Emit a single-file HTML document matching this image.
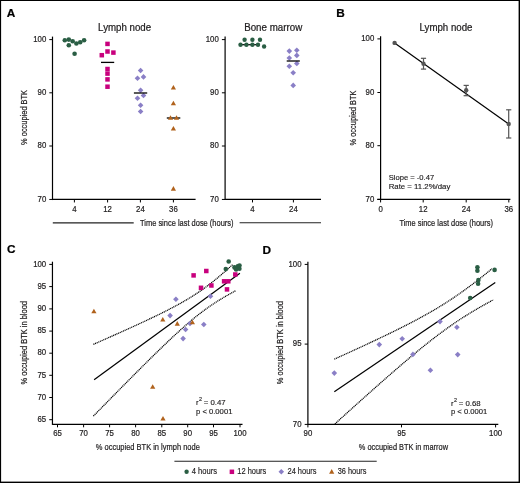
<!DOCTYPE html>
<html><head><meta charset="utf-8"><style>
html,body{margin:0;padding:0;background:#fff;width:520px;height:483px;overflow:hidden}
svg{display:block;font-family:"Liberation Sans", sans-serif;will-change:transform}
</style></head><body>
<svg width="520" height="483" viewBox="0 0 520 483">
<rect x="0" y="0" width="520" height="483" fill="#fff"/>
<rect x="0" y="0" width="520" height="1" fill="#000"/>
<rect x="0" y="0" width="1.1" height="483" fill="#000"/>
<rect x="518.6" y="0" width="1.4" height="483" fill="#000"/>
<rect x="0" y="481.6" width="520" height="1.4" fill="#000"/>
<text x="6.80" y="16.90" font-size="11.8" text-anchor="start" font-weight="bold" fill="#000" stroke="#000" stroke-width="0.22">A</text>
<text x="336.30" y="16.90" font-size="11.8" text-anchor="start" font-weight="bold" fill="#000" stroke="#000" stroke-width="0.22">B</text>
<text x="7.00" y="253.30" font-size="11.8" text-anchor="start" font-weight="bold" fill="#000" stroke="#000" stroke-width="0.22">C</text>
<text x="262.60" y="253.50" font-size="11.8" text-anchor="start" font-weight="bold" fill="#000" stroke="#000" stroke-width="0.22">D</text>
<line x1="52.50" y1="36.60" x2="52.50" y2="200.05" stroke="#000" stroke-width="1.2" />
<line x1="49.30" y1="39.60" x2="52.50" y2="39.60" stroke="#000" stroke-width="1.0" />
<text x="46.30" y="41.80" font-size="9.3" text-anchor="end" font-weight="normal" fill="#1e1c1d" stroke="#1e1c1d" stroke-width="0.22" textLength="13.03" lengthAdjust="spacingAndGlyphs">100</text>
<line x1="49.30" y1="92.80" x2="52.50" y2="92.80" stroke="#000" stroke-width="1.0" />
<text x="46.30" y="95.00" font-size="9.3" text-anchor="end" font-weight="normal" fill="#1e1c1d" stroke="#1e1c1d" stroke-width="0.22" textLength="8.69" lengthAdjust="spacingAndGlyphs">90</text>
<line x1="49.30" y1="146.00" x2="52.50" y2="146.00" stroke="#000" stroke-width="1.0" />
<text x="46.30" y="148.20" font-size="9.3" text-anchor="end" font-weight="normal" fill="#1e1c1d" stroke="#1e1c1d" stroke-width="0.22" textLength="8.69" lengthAdjust="spacingAndGlyphs">80</text>
<line x1="49.30" y1="199.45" x2="52.50" y2="199.45" stroke="#000" stroke-width="1.0" />
<text x="46.30" y="201.65" font-size="9.3" text-anchor="end" font-weight="normal" fill="#1e1c1d" stroke="#1e1c1d" stroke-width="0.22" textLength="8.69" lengthAdjust="spacingAndGlyphs">70</text>
<line x1="52.50" y1="199.45" x2="195.60" y2="199.45" stroke="#000" stroke-width="1.2" />
<line x1="74.40" y1="199.45" x2="74.40" y2="202.45" stroke="#000" stroke-width="1.0" />
<text x="74.40" y="212.30" font-size="9.3" text-anchor="middle" font-weight="normal" fill="#1e1c1d" stroke="#1e1c1d" stroke-width="0.22" textLength="4.34" lengthAdjust="spacingAndGlyphs">4</text>
<line x1="107.60" y1="199.45" x2="107.60" y2="202.45" stroke="#000" stroke-width="1.0" />
<text x="107.60" y="212.30" font-size="9.3" text-anchor="middle" font-weight="normal" fill="#1e1c1d" stroke="#1e1c1d" stroke-width="0.22" textLength="8.69" lengthAdjust="spacingAndGlyphs">12</text>
<line x1="140.40" y1="199.45" x2="140.40" y2="202.45" stroke="#000" stroke-width="1.0" />
<text x="140.40" y="212.30" font-size="9.3" text-anchor="middle" font-weight="normal" fill="#1e1c1d" stroke="#1e1c1d" stroke-width="0.22" textLength="8.69" lengthAdjust="spacingAndGlyphs">24</text>
<line x1="173.40" y1="199.45" x2="173.40" y2="202.45" stroke="#000" stroke-width="1.0" />
<text x="173.40" y="212.30" font-size="9.3" text-anchor="middle" font-weight="normal" fill="#1e1c1d" stroke="#1e1c1d" stroke-width="0.22" textLength="8.69" lengthAdjust="spacingAndGlyphs">36</text>
<text x="124.60" y="31.00" font-size="10.1" text-anchor="middle" font-weight="normal" fill="#1e1c1d" stroke="#1e1c1d" stroke-width="0.22" textLength="53.00" lengthAdjust="spacingAndGlyphs">Lymph node</text>
<text x="27.30" y="117.45" font-size="9.3" text-anchor="middle" font-weight="normal" fill="#1e1c1d" stroke="#1e1c1d" stroke-width="0.22" textLength="55.00" lengthAdjust="spacingAndGlyphs" transform="rotate(-90 27.30 117.45)">% occupied BTK</text>
<circle cx="64.80" cy="40.20" r="2.3" fill="#2a5e44"/>
<circle cx="68.80" cy="39.60" r="2.3" fill="#2a5e44"/>
<circle cx="72.70" cy="41.20" r="2.3" fill="#2a5e44"/>
<circle cx="76.40" cy="43.50" r="2.3" fill="#2a5e44"/>
<circle cx="80.20" cy="42.20" r="2.3" fill="#2a5e44"/>
<circle cx="84.10" cy="40.20" r="2.3" fill="#2a5e44"/>
<circle cx="68.80" cy="45.20" r="2.3" fill="#2a5e44"/>
<circle cx="74.60" cy="53.70" r="2.3" fill="#2a5e44"/>
<line x1="101.00" y1="62.40" x2="114.20" y2="62.40" stroke="#000" stroke-width="1.3" />
<rect x="105.25" y="41.65" width="4.5" height="4.5" fill="#c8007d"/>
<rect x="105.25" y="49.25" width="4.5" height="4.5" fill="#c8007d"/>
<rect x="111.15" y="50.35" width="4.5" height="4.5" fill="#c8007d"/>
<rect x="99.55" y="52.95" width="4.5" height="4.5" fill="#c8007d"/>
<rect x="105.25" y="66.75" width="4.5" height="4.5" fill="#c8007d"/>
<rect x="105.25" y="71.35" width="4.5" height="4.5" fill="#c8007d"/>
<rect x="105.25" y="77.15" width="4.5" height="4.5" fill="#c8007d"/>
<rect x="105.25" y="84.45" width="4.5" height="4.5" fill="#c8007d"/>
<path d="M140.60 67.70L143.40 70.50L140.60 73.30L137.80 70.50Z" fill="#8a7fc6"/>
<path d="M143.50 74.10L146.30 76.90L143.50 79.70L140.70 76.90Z" fill="#8a7fc6"/>
<path d="M137.50 75.40L140.30 78.20L137.50 81.00L134.70 78.20Z" fill="#8a7fc6"/>
<path d="M140.60 87.40L143.40 90.20L140.60 93.00L137.80 90.20Z" fill="#8a7fc6"/>
<path d="M143.50 92.70L146.30 95.50L143.50 98.30L140.70 95.50Z" fill="#8a7fc6"/>
<path d="M137.50 95.40L140.30 98.20L137.50 101.00L134.70 98.20Z" fill="#8a7fc6"/>
<path d="M140.60 102.50L143.40 105.30L140.60 108.10L137.80 105.30Z" fill="#8a7fc6"/>
<path d="M140.60 108.70L143.40 111.50L140.60 114.30L137.80 111.50Z" fill="#8a7fc6"/>
<line x1="133.90" y1="93.00" x2="147.20" y2="93.00" stroke="#000" stroke-width="1.3" />
<line x1="166.80" y1="118.00" x2="180.30" y2="118.00" stroke="#000" stroke-width="1.3" />
<path d="M173.40 84.94L176.00 89.54L170.80 89.54Z" fill="#b0621c"/>
<path d="M173.40 100.64L176.00 105.24L170.80 105.24Z" fill="#b0621c"/>
<path d="M170.50 115.14L173.10 119.74L167.90 119.74Z" fill="#b0621c"/>
<path d="M176.50 115.14L179.10 119.74L173.90 119.74Z" fill="#b0621c"/>
<path d="M173.40 125.94L176.00 130.54L170.80 130.54Z" fill="#b0621c"/>
<path d="M173.40 186.04L176.00 190.64L170.80 190.64Z" fill="#b0621c"/>
<line x1="225.10" y1="36.60" x2="225.10" y2="200.05" stroke="#000" stroke-width="1.2" />
<line x1="221.90" y1="39.60" x2="225.10" y2="39.60" stroke="#000" stroke-width="1.0" />
<text x="218.80" y="41.80" font-size="9.3" text-anchor="end" font-weight="normal" fill="#1e1c1d" stroke="#1e1c1d" stroke-width="0.22" textLength="13.03" lengthAdjust="spacingAndGlyphs">100</text>
<line x1="221.90" y1="92.80" x2="225.10" y2="92.80" stroke="#000" stroke-width="1.0" />
<text x="218.80" y="95.00" font-size="9.3" text-anchor="end" font-weight="normal" fill="#1e1c1d" stroke="#1e1c1d" stroke-width="0.22" textLength="8.69" lengthAdjust="spacingAndGlyphs">90</text>
<line x1="221.90" y1="146.00" x2="225.10" y2="146.00" stroke="#000" stroke-width="1.0" />
<text x="218.80" y="148.20" font-size="9.3" text-anchor="end" font-weight="normal" fill="#1e1c1d" stroke="#1e1c1d" stroke-width="0.22" textLength="8.69" lengthAdjust="spacingAndGlyphs">80</text>
<line x1="221.90" y1="199.45" x2="225.10" y2="199.45" stroke="#000" stroke-width="1.0" />
<text x="218.80" y="201.65" font-size="9.3" text-anchor="end" font-weight="normal" fill="#1e1c1d" stroke="#1e1c1d" stroke-width="0.22" textLength="8.69" lengthAdjust="spacingAndGlyphs">70</text>
<line x1="225.10" y1="199.45" x2="321.00" y2="199.45" stroke="#000" stroke-width="1.2" />
<line x1="252.50" y1="199.45" x2="252.50" y2="202.45" stroke="#000" stroke-width="1.0" />
<text x="252.50" y="212.30" font-size="9.3" text-anchor="middle" font-weight="normal" fill="#1e1c1d" stroke="#1e1c1d" stroke-width="0.22" textLength="4.34" lengthAdjust="spacingAndGlyphs">4</text>
<line x1="293.40" y1="199.45" x2="293.40" y2="202.45" stroke="#000" stroke-width="1.0" />
<text x="293.40" y="212.30" font-size="9.3" text-anchor="middle" font-weight="normal" fill="#1e1c1d" stroke="#1e1c1d" stroke-width="0.22" textLength="8.69" lengthAdjust="spacingAndGlyphs">24</text>
<text x="273.20" y="31.00" font-size="10.1" text-anchor="middle" font-weight="normal" fill="#1e1c1d" stroke="#1e1c1d" stroke-width="0.22" textLength="58.00" lengthAdjust="spacingAndGlyphs">Bone marrow</text>
<line x1="241.00" y1="44.70" x2="259.00" y2="44.70" stroke="#000" stroke-width="1.2" />
<circle cx="244.60" cy="39.80" r="2.2" fill="#2a5e44"/>
<circle cx="252.40" cy="39.80" r="2.2" fill="#2a5e44"/>
<circle cx="260.00" cy="39.80" r="2.2" fill="#2a5e44"/>
<circle cx="240.50" cy="44.70" r="2.2" fill="#2a5e44"/>
<circle cx="246.40" cy="44.70" r="2.2" fill="#2a5e44"/>
<circle cx="252.40" cy="44.70" r="2.2" fill="#2a5e44"/>
<circle cx="258.00" cy="44.70" r="2.2" fill="#2a5e44"/>
<circle cx="264.10" cy="46.50" r="2.2" fill="#2a5e44"/>
<path d="M289.30 48.30L292.10 51.10L289.30 53.90L286.50 51.10Z" fill="#8a7fc6"/>
<path d="M296.80 47.50L299.60 50.30L296.80 53.10L294.00 50.30Z" fill="#8a7fc6"/>
<path d="M296.80 52.60L299.60 55.40L296.80 58.20L294.00 55.40Z" fill="#8a7fc6"/>
<path d="M289.30 55.20L292.10 58.00L289.30 60.80L286.50 58.00Z" fill="#8a7fc6"/>
<path d="M296.80 60.70L299.60 63.50L296.80 66.30L294.00 63.50Z" fill="#8a7fc6"/>
<path d="M289.30 63.40L292.10 66.20L289.30 69.00L286.50 66.20Z" fill="#8a7fc6"/>
<path d="M293.20 70.00L296.00 72.80L293.20 75.60L290.40 72.80Z" fill="#8a7fc6"/>
<path d="M293.20 82.60L296.00 85.40L293.20 88.20L290.40 85.40Z" fill="#8a7fc6"/>
<line x1="286.70" y1="61.00" x2="299.80" y2="61.00" stroke="#000" stroke-width="1.3" />
<line x1="52.80" y1="222.90" x2="133.70" y2="222.90" stroke="#222" stroke-width="1.1" />
<line x1="239.60" y1="222.80" x2="321.00" y2="222.80" stroke="#222" stroke-width="1.1" />
<text x="140.00" y="225.90" font-size="9.8" text-anchor="start" font-weight="normal" fill="#1e1c1d" stroke="#1e1c1d" stroke-width="0.22" textLength="93.50" lengthAdjust="spacingAndGlyphs">Time since last dose (hours)</text>
<line x1="380.60" y1="36.20" x2="380.60" y2="200.05" stroke="#000" stroke-width="1.2" />
<line x1="377.40" y1="38.90" x2="380.60" y2="38.90" stroke="#000" stroke-width="1.0" />
<text x="374.30" y="41.10" font-size="9.3" text-anchor="end" font-weight="normal" fill="#1e1c1d" stroke="#1e1c1d" stroke-width="0.22" textLength="13.03" lengthAdjust="spacingAndGlyphs">100</text>
<line x1="377.40" y1="92.50" x2="380.60" y2="92.50" stroke="#000" stroke-width="1.0" />
<text x="374.30" y="94.70" font-size="9.3" text-anchor="end" font-weight="normal" fill="#1e1c1d" stroke="#1e1c1d" stroke-width="0.22" textLength="8.69" lengthAdjust="spacingAndGlyphs">90</text>
<line x1="377.40" y1="145.70" x2="380.60" y2="145.70" stroke="#000" stroke-width="1.0" />
<text x="374.30" y="147.90" font-size="9.3" text-anchor="end" font-weight="normal" fill="#1e1c1d" stroke="#1e1c1d" stroke-width="0.22" textLength="8.69" lengthAdjust="spacingAndGlyphs">80</text>
<line x1="377.40" y1="199.45" x2="380.60" y2="199.45" stroke="#000" stroke-width="1.0" />
<text x="374.30" y="201.65" font-size="9.3" text-anchor="end" font-weight="normal" fill="#1e1c1d" stroke="#1e1c1d" stroke-width="0.22" textLength="8.69" lengthAdjust="spacingAndGlyphs">70</text>
<line x1="377.30" y1="199.45" x2="510.40" y2="199.45" stroke="#000" stroke-width="1.2" />
<line x1="380.60" y1="199.45" x2="380.60" y2="202.45" stroke="#000" stroke-width="1.0" />
<text x="380.60" y="212.30" font-size="9.3" text-anchor="middle" font-weight="normal" fill="#1e1c1d" stroke="#1e1c1d" stroke-width="0.22" textLength="4.34" lengthAdjust="spacingAndGlyphs">0</text>
<line x1="423.20" y1="199.45" x2="423.20" y2="202.45" stroke="#000" stroke-width="1.0" />
<text x="423.20" y="212.30" font-size="9.3" text-anchor="middle" font-weight="normal" fill="#1e1c1d" stroke="#1e1c1d" stroke-width="0.22" textLength="8.69" lengthAdjust="spacingAndGlyphs">12</text>
<line x1="466.20" y1="199.45" x2="466.20" y2="202.45" stroke="#000" stroke-width="1.0" />
<text x="466.20" y="212.30" font-size="9.3" text-anchor="middle" font-weight="normal" fill="#1e1c1d" stroke="#1e1c1d" stroke-width="0.22" textLength="8.69" lengthAdjust="spacingAndGlyphs">24</text>
<line x1="508.80" y1="199.45" x2="508.80" y2="202.45" stroke="#000" stroke-width="1.0" />
<text x="508.80" y="212.30" font-size="9.3" text-anchor="middle" font-weight="normal" fill="#1e1c1d" stroke="#1e1c1d" stroke-width="0.22" textLength="8.69" lengthAdjust="spacingAndGlyphs">36</text>
<text x="446.00" y="31.00" font-size="10.1" text-anchor="middle" font-weight="normal" fill="#1e1c1d" stroke="#1e1c1d" stroke-width="0.22" textLength="53.00" lengthAdjust="spacingAndGlyphs">Lymph node</text>
<text x="355.70" y="117.95" font-size="9.3" text-anchor="middle" font-weight="normal" fill="#1e1c1d" stroke="#1e1c1d" stroke-width="0.22" textLength="55.00" lengthAdjust="spacingAndGlyphs" transform="rotate(-90 355.70 117.95)">% occupied BTK</text>
<text x="399.40" y="225.80" font-size="9.8" text-anchor="start" font-weight="normal" fill="#1e1c1d" stroke="#1e1c1d" stroke-width="0.22" textLength="93.60" lengthAdjust="spacingAndGlyphs">Time since last dose (hours)</text>
<line x1="394.60" y1="42.90" x2="508.70" y2="124.00" stroke="#000" stroke-width="1.2" />
<line x1="423.50" y1="58.30" x2="423.50" y2="69.10" stroke="#555555" stroke-width="1.2" />
<line x1="420.90" y1="58.30" x2="426.10" y2="58.30" stroke="#555555" stroke-width="1.2" />
<line x1="420.90" y1="69.10" x2="426.10" y2="69.10" stroke="#555555" stroke-width="1.2" />
<line x1="466.20" y1="85.40" x2="466.20" y2="95.70" stroke="#555555" stroke-width="1.2" />
<line x1="463.60" y1="85.40" x2="468.80" y2="85.40" stroke="#555555" stroke-width="1.2" />
<line x1="463.60" y1="95.70" x2="468.80" y2="95.70" stroke="#555555" stroke-width="1.2" />
<line x1="508.70" y1="109.80" x2="508.70" y2="138.00" stroke="#555555" stroke-width="1.2" />
<line x1="506.10" y1="109.80" x2="511.30" y2="109.80" stroke="#555555" stroke-width="1.2" />
<line x1="506.10" y1="138.00" x2="511.30" y2="138.00" stroke="#555555" stroke-width="1.2" />
<circle cx="394.60" cy="42.90" r="2.2" fill="#555555"/>
<circle cx="423.50" cy="63.80" r="2.2" fill="#555555"/>
<circle cx="466.20" cy="90.20" r="2.2" fill="#555555"/>
<circle cx="508.70" cy="124.00" r="2.2" fill="#555555"/>
<text x="388.70" y="179.80" font-size="7.8" text-anchor="start" font-weight="normal" fill="#1e1c1d" stroke="#1e1c1d" stroke-width="0.15" textLength="45.50" lengthAdjust="spacingAndGlyphs">Slope = -0.47</text>
<text x="388.70" y="188.90" font-size="7.8" text-anchor="start" font-weight="normal" fill="#1e1c1d" stroke="#1e1c1d" stroke-width="0.15">Rate = 11.2%/day</text>
<line x1="52.45" y1="261.70" x2="52.45" y2="424.90" stroke="#000" stroke-width="1.2" />
<line x1="49.25" y1="264.40" x2="52.45" y2="264.40" stroke="#000" stroke-width="1.0" />
<text x="46.20" y="266.60" font-size="9.3" text-anchor="end" font-weight="normal" fill="#1e1c1d" stroke="#1e1c1d" stroke-width="0.22" textLength="13.03" lengthAdjust="spacingAndGlyphs">100</text>
<line x1="49.25" y1="286.60" x2="52.45" y2="286.60" stroke="#000" stroke-width="1.0" />
<text x="46.20" y="288.80" font-size="9.3" text-anchor="end" font-weight="normal" fill="#1e1c1d" stroke="#1e1c1d" stroke-width="0.22" textLength="8.69" lengthAdjust="spacingAndGlyphs">95</text>
<line x1="49.25" y1="308.90" x2="52.45" y2="308.90" stroke="#000" stroke-width="1.0" />
<text x="46.20" y="311.10" font-size="9.3" text-anchor="end" font-weight="normal" fill="#1e1c1d" stroke="#1e1c1d" stroke-width="0.22" textLength="8.69" lengthAdjust="spacingAndGlyphs">90</text>
<line x1="49.25" y1="331.10" x2="52.45" y2="331.10" stroke="#000" stroke-width="1.0" />
<text x="46.20" y="333.30" font-size="9.3" text-anchor="end" font-weight="normal" fill="#1e1c1d" stroke="#1e1c1d" stroke-width="0.22" textLength="8.69" lengthAdjust="spacingAndGlyphs">85</text>
<line x1="49.25" y1="353.20" x2="52.45" y2="353.20" stroke="#000" stroke-width="1.0" />
<text x="46.20" y="355.40" font-size="9.3" text-anchor="end" font-weight="normal" fill="#1e1c1d" stroke="#1e1c1d" stroke-width="0.22" textLength="8.69" lengthAdjust="spacingAndGlyphs">80</text>
<line x1="49.25" y1="375.30" x2="52.45" y2="375.30" stroke="#000" stroke-width="1.0" />
<text x="46.20" y="377.50" font-size="9.3" text-anchor="end" font-weight="normal" fill="#1e1c1d" stroke="#1e1c1d" stroke-width="0.22" textLength="8.69" lengthAdjust="spacingAndGlyphs">75</text>
<line x1="49.25" y1="397.50" x2="52.45" y2="397.50" stroke="#000" stroke-width="1.0" />
<text x="46.20" y="399.70" font-size="9.3" text-anchor="end" font-weight="normal" fill="#1e1c1d" stroke="#1e1c1d" stroke-width="0.22" textLength="8.69" lengthAdjust="spacingAndGlyphs">70</text>
<line x1="49.25" y1="419.70" x2="52.45" y2="419.70" stroke="#000" stroke-width="1.0" />
<text x="46.20" y="421.90" font-size="9.3" text-anchor="end" font-weight="normal" fill="#1e1c1d" stroke="#1e1c1d" stroke-width="0.22" textLength="8.69" lengthAdjust="spacingAndGlyphs">65</text>
<line x1="52.45" y1="424.30" x2="242.50" y2="424.30" stroke="#000" stroke-width="1.2" />
<line x1="57.50" y1="424.30" x2="57.50" y2="427.30" stroke="#000" stroke-width="1.0" />
<text x="57.50" y="436.20" font-size="9.3" text-anchor="middle" font-weight="normal" fill="#1e1c1d" stroke="#1e1c1d" stroke-width="0.22" textLength="8.69" lengthAdjust="spacingAndGlyphs">65</text>
<line x1="83.60" y1="424.30" x2="83.60" y2="427.30" stroke="#000" stroke-width="1.0" />
<text x="83.60" y="436.20" font-size="9.3" text-anchor="middle" font-weight="normal" fill="#1e1c1d" stroke="#1e1c1d" stroke-width="0.22" textLength="8.69" lengthAdjust="spacingAndGlyphs">70</text>
<line x1="109.60" y1="424.30" x2="109.60" y2="427.30" stroke="#000" stroke-width="1.0" />
<text x="109.60" y="436.20" font-size="9.3" text-anchor="middle" font-weight="normal" fill="#1e1c1d" stroke="#1e1c1d" stroke-width="0.22" textLength="8.69" lengthAdjust="spacingAndGlyphs">75</text>
<line x1="135.60" y1="424.30" x2="135.60" y2="427.30" stroke="#000" stroke-width="1.0" />
<text x="135.60" y="436.20" font-size="9.3" text-anchor="middle" font-weight="normal" fill="#1e1c1d" stroke="#1e1c1d" stroke-width="0.22" textLength="8.69" lengthAdjust="spacingAndGlyphs">80</text>
<line x1="161.80" y1="424.30" x2="161.80" y2="427.30" stroke="#000" stroke-width="1.0" />
<text x="161.80" y="436.20" font-size="9.3" text-anchor="middle" font-weight="normal" fill="#1e1c1d" stroke="#1e1c1d" stroke-width="0.22" textLength="8.69" lengthAdjust="spacingAndGlyphs">85</text>
<line x1="187.70" y1="424.30" x2="187.70" y2="427.30" stroke="#000" stroke-width="1.0" />
<text x="187.70" y="436.20" font-size="9.3" text-anchor="middle" font-weight="normal" fill="#1e1c1d" stroke="#1e1c1d" stroke-width="0.22" textLength="8.69" lengthAdjust="spacingAndGlyphs">90</text>
<line x1="213.50" y1="424.30" x2="213.50" y2="427.30" stroke="#000" stroke-width="1.0" />
<text x="213.50" y="436.20" font-size="9.3" text-anchor="middle" font-weight="normal" fill="#1e1c1d" stroke="#1e1c1d" stroke-width="0.22" textLength="8.69" lengthAdjust="spacingAndGlyphs">95</text>
<line x1="240.00" y1="424.30" x2="240.00" y2="427.30" stroke="#000" stroke-width="1.0" />
<text x="240.00" y="436.20" font-size="9.3" text-anchor="middle" font-weight="normal" fill="#1e1c1d" stroke="#1e1c1d" stroke-width="0.22" textLength="13.03" lengthAdjust="spacingAndGlyphs">100</text>
<text x="27.30" y="342.80" font-size="9.3" text-anchor="middle" font-weight="normal" fill="#1e1c1d" stroke="#1e1c1d" stroke-width="0.22" textLength="83.60" lengthAdjust="spacingAndGlyphs" transform="rotate(-90 27.30 342.80)">% occupied BTK in blood</text>
<text x="95.80" y="449.80" font-size="9.9" text-anchor="start" font-weight="normal" fill="#1e1c1d" stroke="#1e1c1d" stroke-width="0.22" textLength="104.00" lengthAdjust="spacingAndGlyphs">% occupied BTK in lymph node</text>
<polyline points="93.40,344.34 96.88,342.81 100.36,341.28 103.83,339.74 107.31,338.20 110.79,336.66 114.27,335.11 117.74,333.56 121.22,332.00 124.70,330.43 128.18,328.86 131.65,327.28 135.13,325.69 138.61,324.09 142.09,322.48 145.56,320.85 149.04,319.22 152.52,317.56 156.00,315.89 159.47,314.20 162.95,312.48 166.43,310.73 169.91,308.95 173.38,307.14 176.86,305.28 180.34,303.36 183.81,301.40 187.29,299.36 190.77,297.25 194.25,295.06 197.73,292.78 201.20,290.40 204.68,287.92 208.16,285.34 211.63,282.65 215.11,279.87 218.59,277.00 222.07,274.04 225.55,271.01 229.02,267.91 232.50,264.75" fill="none" stroke="#000" stroke-width="1.25" stroke-dasharray="1.1 0.7"/>
<polyline points="93.40,416.08 96.95,412.45 100.51,408.83 104.06,405.21 107.61,401.59 111.16,397.98 114.72,394.37 118.27,390.77 121.82,387.17 125.37,383.59 128.93,380.00 132.48,376.43 136.03,372.87 139.58,369.31 143.13,365.77 146.69,362.24 150.24,358.73 153.79,355.24 157.34,351.76 160.90,348.31 164.45,344.89 168.00,341.50 171.56,338.14 175.11,334.83 178.66,331.56 182.21,328.36 185.76,325.21 189.32,322.14 192.87,319.16 196.42,316.26 199.98,313.47 203.53,310.77 207.08,308.19 210.63,305.71 214.19,303.33 217.74,301.05 221.29,298.86 224.84,296.76 228.40,294.72 231.95,292.75 235.50,290.83" fill="none" stroke="#000" stroke-width="1.25" stroke-dasharray="1.1 0.7"/>
<line x1="94.10" y1="379.70" x2="239.90" y2="273.20" stroke="#000" stroke-width="1.25" />
<rect x="191.35" y="273.15" width="4.5" height="4.5" fill="#c8007d"/>
<rect x="204.05" y="268.75" width="4.5" height="4.5" fill="#c8007d"/>
<rect x="233.05" y="272.25" width="4.5" height="4.5" fill="#c8007d"/>
<rect x="221.85" y="279.05" width="4.5" height="4.5" fill="#c8007d"/>
<rect x="226.05" y="279.05" width="4.5" height="4.5" fill="#c8007d"/>
<rect x="209.15" y="283.25" width="4.5" height="4.5" fill="#c8007d"/>
<rect x="198.75" y="285.55" width="4.5" height="4.5" fill="#c8007d"/>
<rect x="224.75" y="287.15" width="4.5" height="4.5" fill="#c8007d"/>
<path d="M175.90 296.50L178.70 299.30L175.90 302.10L173.10 299.30Z" fill="#8a7fc6"/>
<path d="M210.50 293.40L213.30 296.20L210.50 299.00L207.70 296.20Z" fill="#8a7fc6"/>
<path d="M170.10 312.80L172.90 315.60L170.10 318.40L167.30 315.60Z" fill="#8a7fc6"/>
<path d="M185.60 326.70L188.40 329.50L185.60 332.30L182.80 329.50Z" fill="#8a7fc6"/>
<path d="M190.00 320.70L192.80 323.50L190.00 326.30L187.20 323.50Z" fill="#8a7fc6"/>
<path d="M203.80 321.70L206.60 324.50L203.80 327.30L201.00 324.50Z" fill="#8a7fc6"/>
<path d="M183.10 335.80L185.90 338.60L183.10 341.40L180.30 338.60Z" fill="#8a7fc6"/>
<path d="M93.90 308.64L96.50 313.24L91.30 313.24Z" fill="#b0621c"/>
<path d="M152.70 384.24L155.30 388.84L150.10 388.84Z" fill="#b0621c"/>
<path d="M163.00 415.94L165.60 420.54L160.40 420.54Z" fill="#b0621c"/>
<path d="M162.80 316.94L165.40 321.54L160.20 321.54Z" fill="#b0621c"/>
<path d="M177.30 321.04L179.90 325.64L174.70 325.64Z" fill="#b0621c"/>
<path d="M192.40 319.74L195.00 324.34L189.80 324.34Z" fill="#b0621c"/>
<circle cx="228.70" cy="261.50" r="2.3" fill="#2a5e44"/>
<circle cx="225.80" cy="269.10" r="2.3" fill="#2a5e44"/>
<circle cx="234.50" cy="267.40" r="2.3" fill="#2a5e44"/>
<circle cx="237.80" cy="266.20" r="2.3" fill="#2a5e44"/>
<circle cx="239.40" cy="268.70" r="2.3" fill="#2a5e44"/>
<circle cx="236.10" cy="269.50" r="2.3" fill="#2a5e44"/>
<circle cx="239.50" cy="265.60" r="2.3" fill="#2a5e44"/>
<text x="196.00" y="405.00" font-size="7.8" text-anchor="start" font-weight="normal" fill="#1e1c1d" stroke="#1e1c1d" stroke-width="0.15">r</text>
<text x="199.00" y="401.40" font-size="5.4" text-anchor="start" font-weight="normal" fill="#1e1c1d" stroke="#1e1c1d" stroke-width="0.15">2</text>
<text x="203.80" y="405.00" font-size="7.8" text-anchor="start" font-weight="normal" fill="#1e1c1d" stroke="#1e1c1d" stroke-width="0.15">= 0.47</text>
<text x="196.00" y="414.00" font-size="7.8" text-anchor="start" font-weight="normal" fill="#1e1c1d" stroke="#1e1c1d" stroke-width="0.15" textLength="36.40" lengthAdjust="spacingAndGlyphs">p &lt; 0.0001</text>
<line x1="307.90" y1="261.70" x2="307.90" y2="425.00" stroke="#000" stroke-width="1.2" />
<line x1="304.70" y1="264.40" x2="307.90" y2="264.40" stroke="#000" stroke-width="1.0" />
<text x="301.50" y="266.60" font-size="9.3" text-anchor="end" font-weight="normal" fill="#1e1c1d" stroke="#1e1c1d" stroke-width="0.22" textLength="13.03" lengthAdjust="spacingAndGlyphs">100</text>
<line x1="304.70" y1="344.10" x2="307.90" y2="344.10" stroke="#000" stroke-width="1.0" />
<text x="301.50" y="346.30" font-size="9.3" text-anchor="end" font-weight="normal" fill="#1e1c1d" stroke="#1e1c1d" stroke-width="0.22" textLength="8.69" lengthAdjust="spacingAndGlyphs">95</text>
<line x1="304.70" y1="424.40" x2="307.90" y2="424.40" stroke="#000" stroke-width="1.0" />
<text x="301.50" y="426.60" font-size="9.3" text-anchor="end" font-weight="normal" fill="#1e1c1d" stroke="#1e1c1d" stroke-width="0.22" textLength="8.69" lengthAdjust="spacingAndGlyphs">70</text>
<line x1="307.90" y1="424.40" x2="307.90" y2="427.40" stroke="#000" stroke-width="1.0" />
<line x1="307.90" y1="424.40" x2="498.30" y2="424.40" stroke="#000" stroke-width="1.2" />
<line x1="401.50" y1="424.40" x2="401.50" y2="427.40" stroke="#000" stroke-width="1.0" />
<text x="401.50" y="436.40" font-size="9.3" text-anchor="middle" font-weight="normal" fill="#1e1c1d" stroke="#1e1c1d" stroke-width="0.22" textLength="8.69" lengthAdjust="spacingAndGlyphs">95</text>
<line x1="495.60" y1="424.40" x2="495.60" y2="427.40" stroke="#000" stroke-width="1.0" />
<text x="495.60" y="436.40" font-size="9.3" text-anchor="middle" font-weight="normal" fill="#1e1c1d" stroke="#1e1c1d" stroke-width="0.22" textLength="13.03" lengthAdjust="spacingAndGlyphs">100</text>
<text x="307.90" y="436.40" font-size="9.3" text-anchor="middle" font-weight="normal" fill="#1e1c1d" stroke="#1e1c1d" stroke-width="0.22" textLength="8.69" lengthAdjust="spacingAndGlyphs">90</text>
<text x="282.90" y="342.60" font-size="9.3" text-anchor="middle" font-weight="normal" fill="#1e1c1d" stroke="#1e1c1d" stroke-width="0.22" textLength="83.20" lengthAdjust="spacingAndGlyphs" transform="rotate(-90 282.90 342.60)">% occupied BTK in blood</text>
<text x="358.80" y="449.60" font-size="9.9" text-anchor="start" font-weight="normal" fill="#1e1c1d" stroke="#1e1c1d" stroke-width="0.22" textLength="89.20" lengthAdjust="spacingAndGlyphs">% occupied BTK in marrow</text>
<polyline points="334.30,359.17 338.24,357.38 342.18,355.59 346.12,353.80 350.06,352.00 354.00,350.19 357.94,348.38 361.88,346.56 365.82,344.73 369.76,342.89 373.70,341.04 377.64,339.18 381.58,337.30 385.52,335.41 389.46,333.51 393.40,331.58 397.34,329.64 401.28,327.67 405.22,325.68 409.16,323.66 413.10,321.61 417.04,319.53 420.98,317.40 424.92,315.24 428.86,313.02 432.80,310.75 436.74,308.43 440.68,306.04 444.62,303.59 448.56,301.06 452.50,298.47 456.44,295.80 460.38,293.06 464.32,290.25 468.26,287.36 472.20,284.42 476.14,281.40 480.08,278.33 484.02,275.21 487.96,272.03 491.90,268.81" fill="none" stroke="#000" stroke-width="1.25" stroke-dasharray="1.1 0.7"/>
<polyline points="334.90,423.89 338.86,420.30 342.82,416.72 346.78,413.14 350.74,409.57 354.70,406.00 358.66,402.45 362.62,398.90 366.58,395.36 370.54,391.83 374.50,388.31 378.46,384.80 382.42,381.31 386.38,377.83 390.34,374.36 394.30,370.92 398.26,367.50 402.22,364.10 406.18,360.72 410.14,357.38 414.10,354.06 418.06,350.79 422.02,347.55 425.98,344.36 429.94,341.22 433.90,338.14 437.86,335.11 441.82,332.14 445.78,329.25 449.74,326.42 453.70,323.67 457.66,320.99 461.62,318.39 465.58,315.86 469.54,313.40 473.50,311.00 477.46,308.67 481.42,306.39 485.38,304.17 489.34,301.99 493.30,299.86" fill="none" stroke="#000" stroke-width="1.25" stroke-dasharray="1.1 0.7"/>
<line x1="334.30" y1="391.80" x2="495.30" y2="282.40" stroke="#000" stroke-width="1.25" />
<path d="M334.30 370.30L337.10 373.10L334.30 375.90L331.50 373.10Z" fill="#8a7fc6"/>
<path d="M379.30 341.80L382.10 344.60L379.30 347.40L376.50 344.60Z" fill="#8a7fc6"/>
<path d="M402.20 335.90L405.00 338.70L402.20 341.50L399.40 338.70Z" fill="#8a7fc6"/>
<path d="M412.90 351.60L415.70 354.40L412.90 357.20L410.10 354.40Z" fill="#8a7fc6"/>
<path d="M430.40 367.50L433.20 370.30L430.40 373.10L427.60 370.30Z" fill="#8a7fc6"/>
<path d="M440.00 318.80L442.80 321.60L440.00 324.40L437.20 321.60Z" fill="#8a7fc6"/>
<path d="M456.90 324.40L459.70 327.20L456.90 330.00L454.10 327.20Z" fill="#8a7fc6"/>
<path d="M457.70 351.80L460.50 354.60L457.70 357.40L454.90 354.60Z" fill="#8a7fc6"/>
<circle cx="477.40" cy="267.20" r="2.3" fill="#2a5e44"/>
<circle cx="477.40" cy="270.70" r="2.3" fill="#2a5e44"/>
<circle cx="494.60" cy="269.90" r="2.3" fill="#2a5e44"/>
<circle cx="478.40" cy="280.10" r="2.3" fill="#2a5e44"/>
<circle cx="478.10" cy="283.70" r="2.3" fill="#2a5e44"/>
<circle cx="470.20" cy="298.00" r="2.3" fill="#2a5e44"/>
<text x="451.00" y="405.60" font-size="7.8" text-anchor="start" font-weight="normal" fill="#1e1c1d" stroke="#1e1c1d" stroke-width="0.15">r</text>
<text x="454.00" y="402.00" font-size="5.4" text-anchor="start" font-weight="normal" fill="#1e1c1d" stroke="#1e1c1d" stroke-width="0.15">2</text>
<text x="458.80" y="405.60" font-size="7.8" text-anchor="start" font-weight="normal" fill="#1e1c1d" stroke="#1e1c1d" stroke-width="0.15">= 0.68</text>
<text x="451.00" y="414.30" font-size="7.8" text-anchor="start" font-weight="normal" fill="#1e1c1d" stroke="#1e1c1d" stroke-width="0.15" textLength="36.30" lengthAdjust="spacingAndGlyphs">p &lt; 0.0001</text>
<line x1="174.40" y1="461.30" x2="376.70" y2="461.30" stroke="#222" stroke-width="1.1" />
<circle cx="186.60" cy="471.80" r="2.2" fill="#2a5e44"/>
<text x="191.70" y="474.20" font-size="8.2" text-anchor="start" font-weight="normal" fill="#1e1c1d" stroke="#1e1c1d" stroke-width="0.15" textLength="25.30" lengthAdjust="spacingAndGlyphs">4 hours</text>
<rect x="229.65" y="469.55" width="4.5" height="4.5" fill="#c8007d"/>
<text x="237.30" y="474.20" font-size="8.2" text-anchor="start" font-weight="normal" fill="#1e1c1d" stroke="#1e1c1d" stroke-width="0.15" textLength="29.00" lengthAdjust="spacingAndGlyphs">12 hours</text>
<path d="M281.30 469.00L284.10 471.80L281.30 474.60L278.50 471.80Z" fill="#8a7fc6"/>
<text x="287.50" y="474.20" font-size="8.2" text-anchor="start" font-weight="normal" fill="#1e1c1d" stroke="#1e1c1d" stroke-width="0.15" textLength="29.00" lengthAdjust="spacingAndGlyphs">24 hours</text>
<path d="M331.70 469.04L334.30 473.64L329.10 473.64Z" fill="#b0621c"/>
<text x="337.70" y="474.20" font-size="8.2" text-anchor="start" font-weight="normal" fill="#1e1c1d" stroke="#1e1c1d" stroke-width="0.15" textLength="28.80" lengthAdjust="spacingAndGlyphs">36 hours</text>
</svg>
</body></html>
